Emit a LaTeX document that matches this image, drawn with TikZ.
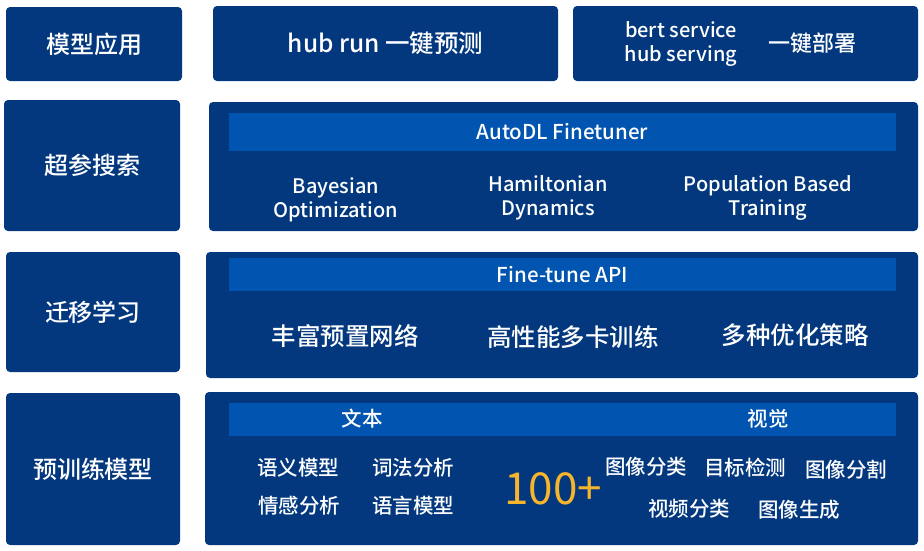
\documentclass[tikz,border=0pt]{standalone}
\usepackage{fontspec}
\setmainfont{Noto Sans CJK SC Medium}
\newfontfamily\countfont{Noto Sans CJK SC}
\usepackage{xcolor}
\definecolor{layerblue}{HTML}{03387E}
\definecolor{stripblue}{HTML}{0154B0}
\definecolor{countorange}{HTML}{F7B52C}

\begin{document}
\begin{tikzpicture}[x=1pt, y=-1pt,
    layer/.style={fill=layerblue, rounded corners=4pt, inner sep=0pt, text=white, align=center},
    strip/.style={fill=stripblue, inner sep=0pt, text=white},
    item/.style={text=white, align=center, inner sep=0pt}]
    \useasboundingbox (0,0) rectangle (924,550);

    % Left column: layer names
    \node[layer, minimum width=176, minimum height=74, font=\fontsize{24}{26}\selectfont] (app) at (94,44) {模型应用};
    \node[layer, minimum width=176, minimum height=131, font=\fontsize{24}{26}\selectfont] (search) at (92,165.5) {超参搜索};
    \node[layer, minimum width=174, minimum height=120, font=\fontsize{24}{26}\selectfont] (transfer) at (93,312) {迁移学习};
    \node[layer, minimum width=174, minimum height=152, font=\fontsize{24}{26}\selectfont] (pretrain) at (93,469) {预训练模型};

    % Row 1: model application
    \node[layer, minimum width=345, minimum height=75, font=\fontsize{24.5}{26}\selectfont] (hubrun) at (385.5,43.5) {hub run 一键预测};
    \node[layer, minimum width=345, minimum height=75] (serve) at (745.5,43.5) {};
    \node[item, font=\fontsize{20}{24}\selectfont] (servetxt) at (681,44) {bert service\\hub serving};
    \node[item, font=\fontsize{22}{24}\selectfont] (deploy) at (812,43) {一键部署};

    % Row 2: hyper-parameter search
    \node[layer, minimum width=709, minimum height=129] (searchbox) at (563.5,166.5) {};
    \node[strip, minimum width=667, minimum height=38, font=\fontsize{20.5}{22}\selectfont] (autodl) at (562.5,132) {AutoDL Finetuner};
    \node[item, font=\fontsize{20}{24}\selectfont] (bayes) at (336,199.5) {Bayesian\\Optimization};
    \node[item, font=\fontsize{20}{24}\selectfont] (hamilton) at (548,198) {Hamiltonian\\Dynamics};
    \node[item, font=\fontsize{20}{24}\selectfont] (pbt) at (768,197.5) {Population Based\\Training};

    % Row 3: transfer learning
    \node[layer, minimum width=712, minimum height=126] (transferbox) at (562,315) {};
    \node[strip, minimum width=667, minimum height=33, font=\fontsize{20.5}{22}\selectfont] (finetune) at (562.5,274.5) {Fine-tune API};
    \node[item, font=\fontsize{24.5}{26}\selectfont] (nets) at (345,336) {丰富预置网络};
    \node[item, font=\fontsize{24.5}{26}\selectfont] (multigpu) at (573,337) {高性能多卡训练};
    \node[item, font=\fontsize{24.5}{26}\selectfont] (strategy) at (795,335) {多种优化策略};

    % Row 4: pre-trained models
    \node[layer, minimum width=713, minimum height=153] (pretrainbox) at (561.5,468.5) {};
    \node[strip, minimum width=667, minimum height=33] (catstrip) at (562.5,419.5) {};
    \node[item, font=\fontsize{20.5}{22}\selectfont] (text) at (362,419) {文本};
    \node[item, font=\fontsize{20.5}{22}\selectfont] (vision) at (768,419) {视觉};
    \foreach \name/\px/\py/\label in {sem/298/468/语义模型, lex/413/468/词法分析,
        senti/299/506/情感分析, lm/413/506/语言模型,
        cls/646/467/图像分类, det/745/468/目标检测, seg/846/470/图像分割,
        video/689/509/视频分类, gen/799/510/图像生成}
        \node[item, font=\fontsize{20.5}{22}\selectfont] (\name) at (\px,\py) {\label};
    \node[text=countorange, inner sep=0pt, font=\countfont\fontsize{44}{46}\selectfont] (count) at (553,489) {100+};
\end{tikzpicture}
\end{document}
